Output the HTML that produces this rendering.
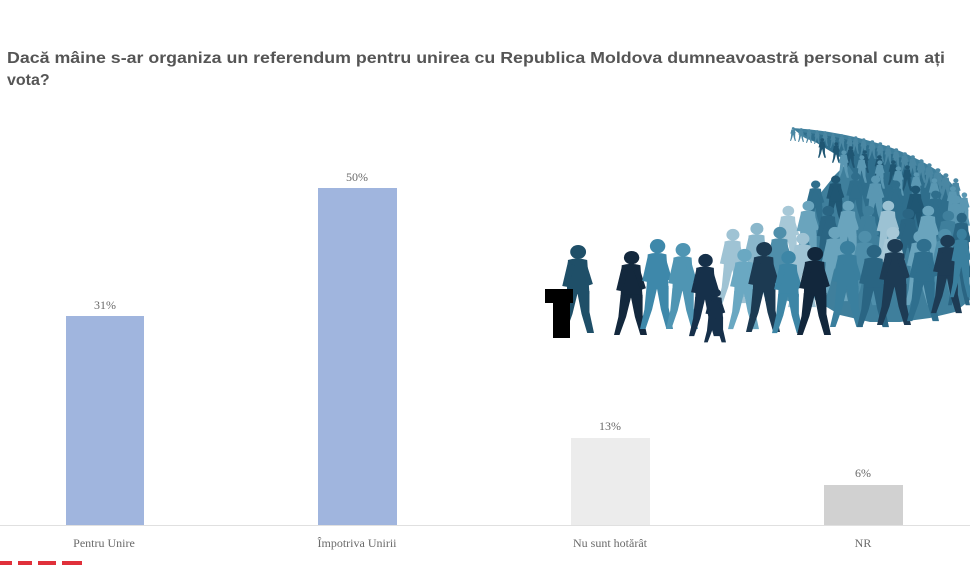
<!DOCTYPE html>
<html>
<head>
<meta charset="utf-8">
<style>
html,body{margin:0;padding:0;background:#ffffff;}
svg{display:block;}
</style>
</head>
<body>
<svg width="970" height="565" viewBox="0 0 970 565" xmlns="http://www.w3.org/2000/svg">
<defs>
<symbol id="p" viewBox="0 0 30 90" preserveAspectRatio="none">
<circle cx="16" cy="8" r="7"/>
<path d="M7 16 Q15 13 24 16 L26 50 L6 50 Z"/>
<path d="M7 18 L2 42 L7 43 L13 22 Z"/>
<path d="M23 18 L29 40 L24 42 L18 22 Z"/>
<path d="M6 47 L16 47 L11 70 L5 89 L0 89 L4 70 Z"/>
<path d="M15 47 L26 47 L26 68 L30 89 L24 89 L19 70 Z"/>
</symbol>
</defs>
<rect width="970" height="565" fill="#ffffff"/>

<!-- Title -->
<text x="7" y="63" font-family="Liberation Sans, sans-serif" font-weight="bold" font-size="16" fill="#555555" textLength="938" lengthAdjust="spacingAndGlyphs">Dacă mâine s-ar organiza un referendum pentru unirea cu Republica Moldova dumneavoastră personal cum ați</text>
<text x="7" y="85" font-family="Liberation Sans, sans-serif" font-weight="bold" font-size="16" fill="#555555">vota?</text>

<!-- Bars -->
<rect x="66" y="316" width="78" height="209" fill="#a0b5de"/>
<rect x="318" y="188" width="79" height="337" fill="#a0b5de"/>
<rect x="571" y="438" width="79" height="87" fill="#ececec"/>
<rect x="824" y="485" width="79" height="40" fill="#d1d1d1"/>
<line x1="0" y1="525.5" x2="970" y2="525.5" stroke="#e0e0e0" stroke-width="1"/>

<!-- Value labels -->
<g font-family="Liberation Serif, serif" font-size="12" fill="#6a6a6a" text-anchor="middle">
<text x="105" y="309">31%</text>
<text x="357" y="181">50%</text>
<text x="610" y="430">13%</text>
<text x="863" y="477">6%</text>
</g>
<!-- Category labels -->
<g font-family="Liberation Serif, serif" font-size="12" fill="#6a6a6a" text-anchor="middle">
<text x="104" y="547">Pentru Unire</text>
<text x="357" y="547">Împotriva Unirii</text>
<text x="610" y="547">Nu sunt hotărât</text>
<text x="863" y="547">NR</text>
</g>

<!-- red fragment bottom-left -->
<g fill="#e0303a">
<rect x="0" y="561" width="12" height="4"/>
<rect x="18" y="561" width="14" height="4"/>
<rect x="38" y="561" width="18" height="4"/>
<rect x="62" y="561" width="20" height="4"/>
</g>

<!-- Crowd illustration -->
<g>
<!-- mass behind -->
<path d="M792 128 C830 130 880 140 915 158 C945 172 962 190 968 215 L970 300 L955 312 L930 318 L900 322 L870 322 L840 315 L815 300 L805 270 L800 235 L815 200 L835 175 L850 160 L830 148 L805 138 Z" fill="#3f7f9c"/>
<path d="M800 132 C840 136 880 146 910 162 C935 176 950 190 958 210 L950 240 L920 250 L890 245 L870 230 L865 205 L858 180 L845 160 L820 145 Z" fill="#2f6e8c"/>
<!-- tail far back -->
<g fill="#4a87a3">
<use href="#p" x="790" y="127" width="6" height="14"/>
<use href="#p" x="798" y="128" width="6" height="14"/>
<use href="#p" x="806" y="129" width="6" height="14"/>
<use href="#p" x="814" y="130" width="6" height="14"/>
<use href="#p" x="822" y="131" width="6" height="15"/>
<use href="#p" x="830" y="133" width="6" height="15"/>
<use href="#p" x="838" y="134" width="7" height="16"/>
<use href="#p" x="846" y="136" width="7" height="17"/>
<use href="#p" x="852" y="136" width="7" height="18"/>
<use href="#p" x="860" y="138" width="7" height="18"/>
<use href="#p" x="868" y="140" width="8" height="19"/>
<use href="#p" x="876" y="142" width="8" height="20"/>
<use href="#p" x="884" y="145" width="8" height="20"/>
<use href="#p" x="892" y="148" width="8" height="21"/>
<use href="#p" x="900" y="152" width="9" height="22"/>
<use href="#p" x="908" y="155" width="9" height="23"/>
<use href="#p" x="916" y="159" width="10" height="24"/>
<use href="#p" x="924" y="163" width="10" height="25"/>
<use href="#p" x="932" y="168" width="11" height="26"/>
<use href="#p" x="940" y="173" width="11" height="27"/>
<use href="#p" x="950" y="178" width="11" height="28"/>
</g>
<g fill="#1f5673">
<use href="#p" x="818" y="138" width="8" height="20"/>
<use href="#p" x="832" y="142" width="8" height="21"/>
<use href="#p" x="846" y="146" width="9" height="22"/>
<use href="#p" x="860" y="150" width="9" height="23"/>
<use href="#p" x="874" y="155" width="10" height="24"/>
<use href="#p" x="888" y="160" width="10" height="25"/>
<use href="#p" x="902" y="165" width="10" height="26"/>
</g>
<g fill="#5a97b2">
<use href="#p" x="838" y="150" width="11" height="28"/>
<use href="#p" x="856" y="155" width="11" height="28"/>
<use href="#p" x="874" y="160" width="11" height="29"/>
<use href="#p" x="892" y="166" width="12" height="30"/>
<use href="#p" x="910" y="172" width="12" height="30"/>
<use href="#p" x="928" y="178" width="12" height="31"/>
<use href="#p" x="946" y="186" width="13" height="32"/>
<use href="#p" x="958" y="192" width="12" height="34"/>
</g>
<!-- middle layer h50 -->
<g fill="#2f6e8c">
<use href="#p" x="805" y="180" width="20" height="50"/>
<use href="#p" x="825" y="175" width="20" height="50" fill="#1f5673"/>
<use href="#p" x="845" y="172" width="20" height="50"/>
<use href="#p" x="865" y="175" width="20" height="50" fill="#5a97b2"/>
<use href="#p" x="885" y="180" width="20" height="50"/>
<use href="#p" x="905" y="185" width="20" height="52" fill="#1f5673"/>
<use href="#p" x="925" y="190" width="20" height="52"/>
<use href="#p" x="945" y="195" width="21" height="54" fill="#5a97b2"/>
</g>
<!-- layer h65 -->
<g fill="#6aa4bd">
<use href="#p" x="775" y="205" width="25" height="66" fill="#a7c8d7"/>
<use href="#p" x="795" y="200" width="25" height="66"/>
<use href="#p" x="815" y="205" width="25" height="66" fill="#2a6583"/>
<use href="#p" x="835" y="200" width="25" height="66"/>
<use href="#p" x="855" y="205" width="25" height="66" fill="#3f7f9c"/>
<use href="#p" x="875" y="200" width="25" height="66" fill="#9cc2d3"/>
<use href="#p" x="895" y="208" width="25" height="66" fill="#2a6583"/>
<use href="#p" x="915" y="205" width="25" height="66"/>
<use href="#p" x="935" y="210" width="25" height="66" fill="#3f7f9c"/>
<use href="#p" x="950" y="212" width="22" height="66" fill="#2a6583"/>
</g>
<!-- layer h75 -->
<g fill="#4f8fab">
<use href="#p" x="718" y="228" width="28" height="76" fill="#9fc3d4"/>
<use href="#p" x="742" y="222" width="28" height="76" fill="#8ab7cb"/>
<use href="#p" x="765" y="226" width="28" height="76"/>
<use href="#p" x="788" y="232" width="28" height="76" fill="#9fc3d4"/>
<use href="#p" x="820" y="226" width="28" height="76" fill="#6aa4bd"/>
<use href="#p" x="850" y="230" width="28" height="76"/>
<use href="#p" x="878" y="226" width="28" height="76" fill="#a7c8d7"/>
<use href="#p" x="905" y="230" width="28" height="76" fill="#6aa4bd"/>
<use href="#p" x="930" y="228" width="28" height="76"/>
<use href="#p" x="948" y="234" width="22" height="72" fill="#2a6583"/>
</g>
<!-- front row -->
<use href="#p" x="560" y="244" width="34" height="90" fill="#1f4f68"/>
<use href="#p" x="614" y="250" width="33" height="86" fill="#13283d"/>
<use href="#p" x="640" y="238" width="33" height="92" fill="#3e88aa"/>
<use href="#p" x="666" y="242" width="32" height="88" fill="#4f95b3"/>
<use href="#p" x="689" y="253" width="31" height="84" fill="#16304a"/>
<use href="#p" x="704" y="288" width="22" height="55" fill="#16304a"/>
<use href="#p" x="728" y="248" width="31" height="82" fill="#6aa8c2"/>
<use href="#p" x="746" y="241" width="34" height="92" fill="#1c3a52"/>
<use href="#p" x="772" y="250" width="31" height="84" fill="#3d86a6"/>
<use href="#p" x="797" y="246" width="34" height="90" fill="#12273c"/>
<use href="#p" x="830" y="240" width="33" height="88" fill="#3a7f9e"/>
<use href="#p" x="857" y="244" width="32" height="84" fill="#2a6583"/>
<use href="#p" x="877" y="238" width="34" height="88" fill="#1d3b54"/>
<use href="#p" x="907" y="238" width="32" height="84" fill="#2f6f8e"/>
<use href="#p" x="931" y="234" width="31" height="80" fill="#1d3b54"/>
<use href="#p" x="950" y="228" width="22" height="70" fill="#3a7f9e"/>

<!-- ballot box -->
<rect x="545" y="289" width="28" height="14" fill="#000000"/>
<rect x="553" y="302" width="17" height="36" fill="#000000"/>
</g>
</svg>
</body>
</html>
